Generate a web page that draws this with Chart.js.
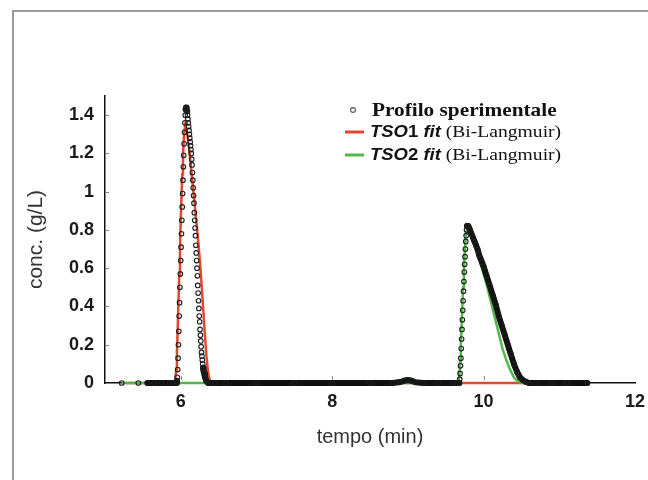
<!DOCTYPE html>
<html>
<head>
<meta charset="utf-8">
<script src="https://cdn.jsdelivr.net/npm/chart.js@4.4.0/dist/chart.umd.min.js"></script>
<style>
  html, body { margin: 0; padding: 0; background: #fff; }
  #wrap { width: 648px; height: 480px; }
</style>
</head>
<body>
<div id="wrap"><canvas id="chart" width="648" height="480"></canvas></div>
<script>
// experimental profile, time (min) / conc (g/L); null = no sample between the first isolated points
var expTime = [5.22, 5.33, 5.44, 5.50, 5.56, 5.65, 5.75, 5.85, 5.90,
  5.945, 5.950, 5.955, 5.960, 5.965, 5.970, 5.975, 5.980, 5.985, 5.990, 5.995, 6.000, 6.005,
  6.010, 6.015, 6.020, 6.025, 6.030, 6.035, 6.040, 6.045, 6.050, 6.055, 6.060, 6.065, 6.070,
  6.075, 6.080, 6.085, 6.090, 6.095, 6.100, 6.105, 6.110, 6.115, 6.120, 6.125, 6.130,
  6.135, 6.140, 6.145, 6.150, 6.155, 6.160, 6.165, 6.170, 6.175, 6.180, 6.185, 6.190,
  6.195, 6.200, 6.205, 6.210, 6.215, 6.220, 6.225, 6.230, 6.235, 6.240, 6.245, 6.250,
  6.255, 6.260, 6.265, 6.270, 6.275, 6.280, 6.285, 6.290, 6.295, 6.300, 6.305, 6.310,
  6.32, 6.33, 6.34, 6.36,
  6.45, 6.60, 7.00, 7.50, 8.00, 8.50, 8.80, 8.90, 8.95, 9.00, 9.05, 9.10, 9.20, 9.40, 9.60, 9.65,
  9.680, 9.685, 9.690, 9.695, 9.700, 9.705, 9.710, 9.715, 9.720, 9.725, 9.730, 9.735, 9.740,
  9.745, 9.750, 9.755, 9.760, 9.765, 9.770, 9.775, 9.780,
  9.80, 9.82, 9.84, 9.86, 9.88, 9.90, 9.92, 9.94, 9.96, 9.98, 10.00,
  10.04, 10.08, 10.12, 10.16, 10.20, 10.24, 10.28, 10.32, 10.36, 10.40, 10.44, 10.48, 10.52, 10.56, 10.60,
  10.70, 10.90, 11.10, 11.37];
var expConc = [0, null, 0, null, 0, 0, 0, 0, 0,
  0.00, 0.01, 0.03, 0.07, 0.13, 0.20, 0.27, 0.35, 0.42, 0.50, 0.57, 0.64, 0.71,
  0.78, 0.85, 0.92, 0.99, 1.06, 1.13, 1.19, 1.25, 1.31, 1.36, 1.40, 1.43, 1.44,
  1.44, 1.43, 1.42, 1.40, 1.38, 1.36, 1.34, 1.32, 1.30, 1.28, 1.26, 1.24,
  1.22, 1.20, 1.17, 1.14, 1.10, 1.06, 1.02, 0.98, 0.94, 0.89, 0.85, 0.81,
  0.77, 0.72, 0.68, 0.64, 0.60, 0.56, 0.51, 0.47, 0.43, 0.39, 0.35, 0.32,
  0.28, 0.25, 0.22, 0.19, 0.16, 0.14, 0.12, 0.10, 0.08, 0.07, 0.06, 0.05,
  0.03, 0.02, 0.01, 0,
  0, 0, 0, 0, 0, 0, 0, 0.005, 0.012, 0.016, 0.012, 0.004, 0, 0, 0, 0,
  0.00, 0.02, 0.05, 0.09, 0.13, 0.18, 0.23, 0.28, 0.33, 0.38, 0.43, 0.48, 0.53,
  0.58, 0.62, 0.66, 0.70, 0.74, 0.77, 0.80, 0.82,
  0.82, 0.80, 0.78, 0.76, 0.74, 0.72, 0.70, 0.67, 0.65, 0.63, 0.61,
  0.56, 0.51, 0.46, 0.41, 0.35, 0.30, 0.25, 0.20, 0.15, 0.10, 0.06, 0.03, 0.015, 0.006, 0,
  0, 0, 0, 0];

// TSO1 fit (Bi-Langmuir)
var tso1Time = [5.22, 5.92, 5.93, 5.94, 5.95, 5.96, 5.97, 5.98, 5.99, 6.00, 6.01, 6.02, 6.03, 6.04, 6.05,
  6.06, 6.08, 6.10, 6.12, 6.14, 6.16, 6.18, 6.20, 6.22, 6.24, 6.26, 6.28, 6.30, 6.32, 6.34,
  6.36, 6.38, 6.40, 6.43, 11.37];
var tso1Conc = [0, 0, 0.02, 0.07, 0.16, 0.28, 0.42, 0.56, 0.70, 0.84, 0.97, 1.09, 1.19, 1.27, 1.32,
  1.35, 1.32, 1.26, 1.19, 1.11, 1.03, 0.95, 0.87, 0.79, 0.70, 0.60, 0.49, 0.37, 0.25, 0.14,
  0.06, 0.02, 0.005, 0, 0];

// TSO2 fit (Bi-Langmuir)
var tso2Time = [5.22, 9.67, 9.68, 9.69, 9.70, 9.71, 9.72, 9.73, 9.74, 9.75, 9.76, 9.77, 9.78,
  9.80, 9.85, 9.90, 9.95, 10.00, 10.05, 10.10, 10.15, 10.20, 10.25, 10.30, 10.35, 10.40,
  10.45, 10.50, 11.37];
var tso2Conc = [0, 0, 0.03, 0.11, 0.20, 0.30, 0.40, 0.50, 0.59, 0.67, 0.74, 0.79, 0.82,
  0.81, 0.76, 0.70, 0.64, 0.57, 0.50, 0.42, 0.34, 0.26, 0.18, 0.12, 0.07, 0.03,
  0.01, 0, 0];

var xTicks = [6, 8, 10, 12];
var xTickLabels = ['6', '8', '10', '12'];
var yTicks = [0, 0.2, 0.4, 0.6, 0.8, 1, 1.2, 1.4];
var yTickLabels = ['0', '0.2', '0.4', '0.6', '0.8', '1', '1.2', '1.4'];

function pairs(xs, ys) {
  return xs.map(function (x, i) { return { x: x, y: ys[i] }; });
}

// white page + grey frame on top/left
var framePlugin = {
  id: 'frame',
  beforeDraw: function (chart) {
    var ctx = chart.ctx;
    ctx.save();
    ctx.fillStyle = '#fff';
    ctx.fillRect(0, 0, chart.width, chart.height);
    ctx.strokeStyle = '#9a9a9a';
    ctx.lineWidth = 2;
    ctx.beginPath();
    ctx.moveTo(13, chart.height);
    ctx.lineTo(13, 11);
    ctx.lineTo(chart.width, 11);
    ctx.stroke();
    ctx.restore();
  }
};

// small inward tick marks
var tickMarks = {
  id: 'tickMarks',
  afterDraw: function (chart) {
    var ctx = chart.ctx, xs = chart.scales.x, ys = chart.scales.y, a = chart.chartArea;
    ctx.save();
    ctx.strokeStyle = '#888';
    ctx.lineWidth = 1;
    ctx.beginPath();
    yTicks.forEach(function (v) {
      if (v === 0) return;
      var py = Math.round(ys.getPixelForValue(v)) + 0.5;
      ctx.moveTo(a.left, py); ctx.lineTo(a.left + 4, py);
    });
    xTicks.forEach(function (v) {
      if (v === 12) return;
      var px = Math.round(xs.getPixelForValue(v)) + 0.5;
      ctx.moveTo(px, a.bottom - 3); ctx.lineTo(px, a.bottom - 7);
    });
    ctx.stroke();
    ctx.restore();
  }
};

// legend with mixed fonts
function stretchText(ctx, txt, x, y, font, sx) {
  ctx.save();
  ctx.font = font;
  ctx.translate(x, y);
  ctx.scale(sx, 1);
  ctx.fillText(txt, 0, 0);
  var w = ctx.measureText(txt).width * sx;
  ctx.restore();
  return x + w;
}

var legendPlugin = {
  id: 'mixLegend',
  afterDraw: function (chart) {
    var ctx = chart.ctx;
    var sx = 1.12;
    ctx.save();
    ctx.fillStyle = '#111';
    ctx.textBaseline = 'alphabetic';
    // marker for experimental profile
    ctx.beginPath();
    ctx.arc(353, 110, 2.4, 0, Math.PI * 2);
    ctx.strokeStyle = '#555';
    ctx.lineWidth = 1.1;
    ctx.stroke();
    stretchText(ctx, 'Profilo sperimentale', 372, 116, 'bold 19px "Liberation Serif"', sx);

    var rows = [
      { y: 137, color: '#e5472d', num: '1' },
      { y: 160, color: '#52b848', num: '2' }
    ];
    rows.forEach(function (r) {
      ctx.strokeStyle = r.color;
      ctx.lineWidth = 3;
      ctx.beginPath();
      ctx.moveTo(345, r.y - 5);
      ctx.lineTo(364, r.y - 5);
      ctx.stroke();
      var x = stretchText(ctx, 'TSO', 370, r.y, 'italic bold 16.5px "Liberation Sans"', sx);
      x = stretchText(ctx, r.num, x, r.y, 'bold 16.5px "Liberation Sans"', sx);
      x = stretchText(ctx, ' fit', x, r.y, 'italic bold 16.5px "Liberation Sans"', sx);
      stretchText(ctx, ' (Bi-Langmuir)', x, r.y, '17.5px "Liberation Serif"', sx);
    });
    ctx.restore();
  }
};

var noClip = { left: 6, top: 6, right: 6, bottom: 6 };

new Chart(document.getElementById('chart'), {
  type: 'scatter',
  data: {
    datasets: [
      {
        label: 'Profilo sperimentale',
        data: pairs(expTime, expConc),
        showLine: true,
        spanGaps: false,
        clip: noClip,
        borderColor: '#111',
        borderWidth: 6,
        borderCapStyle: 'round',
        borderJoinStyle: 'round',
        segment: {
          borderColor: function (s) {
            var dx = Math.abs(s.p1.x - s.p0.x), dy = Math.abs(s.p1.y - s.p0.y);
            return dy > 6 * dx ? 'rgba(0,0,0,0)' : '#111';
          }
        },
        pointRadius: 2.3,
        pointBorderWidth: 1.1,
        pointBorderColor: '#1e1e1e',
        pointBackgroundColor: 'rgba(255,255,255,0)'
      },
      {
        label: 'TSO2 fit (Bi-Langmuir)',
        data: pairs(tso2Time, tso2Conc),
        showLine: true,
        clip: noClip,
        borderColor: '#52b848',
        borderWidth: 2.5,
        pointRadius: 0
      },
      {
        label: 'TSO1 fit (Bi-Langmuir)',
        data: pairs(tso1Time, tso1Conc),
        showLine: true,
        clip: noClip,
        borderColor: '#e5472d',
        borderWidth: 2.5,
        pointRadius: 0
      }
    ]
  },
  options: {
    responsive: false,
    animation: false,
    devicePixelRatio: 1,
    layout: { padding: { left: 0, right: 13, top: 96, bottom: 0 } },
    plugins: {
      legend: { display: false },
      tooltip: { enabled: false }
    },
    scales: {
      x: {
        type: 'linear',
        min: 5,
        max: 12,
        afterBuildTicks: function (s) { s.ticks = xTicks.map(function (v) { return { value: v }; }); },
        afterFit: function (s) { s.height = 97; s.paddingRight = 0; s.paddingLeft = 0; },
        grid: { display: false, drawTicks: false },
        border: { display: true, color: '#111', width: 1.5 },
        ticks: {
          padding: 8,
          maxRotation: 0,
          color: '#1a1a1a',
          font: { family: '"Liberation Sans", Arial, sans-serif', size: 18, weight: 'bold' },
          callback: function (v, i) { return xTickLabels[i]; }
        },
        title: {
          display: true,
          text: 'tempo (min)',
          color: '#333',
          font: { family: '"Liberation Sans", Arial, sans-serif', size: 20 },
          padding: { top: 0, bottom: 31 }
        }
      },
      y: {
        type: 'linear',
        min: 0,
        max: 1.5,
        afterBuildTicks: function (s) { s.ticks = yTicks.map(function (v) { return { value: v }; }); },
        afterFit: function (s) { s.width = 105; },
        grid: { display: false, drawTicks: false },
        border: { display: true, color: '#111', width: 1.5 },
        ticks: {
          padding: 11,
          color: '#1a1a1a',
          font: { family: '"Liberation Sans", Arial, sans-serif', size: 18, weight: 'bold' },
          callback: function (v, i) { return yTickLabels[i]; }
        },
        title: {
          display: true,
          text: 'conc. (g/L)',
          color: '#333',
          font: { family: '"Liberation Sans", Arial, sans-serif', size: 21 },
          padding: { top: 24, bottom: 0 }
        }
      }
    }
  },
  plugins: [framePlugin, tickMarks, legendPlugin]
});
</script>
</body>
</html>
